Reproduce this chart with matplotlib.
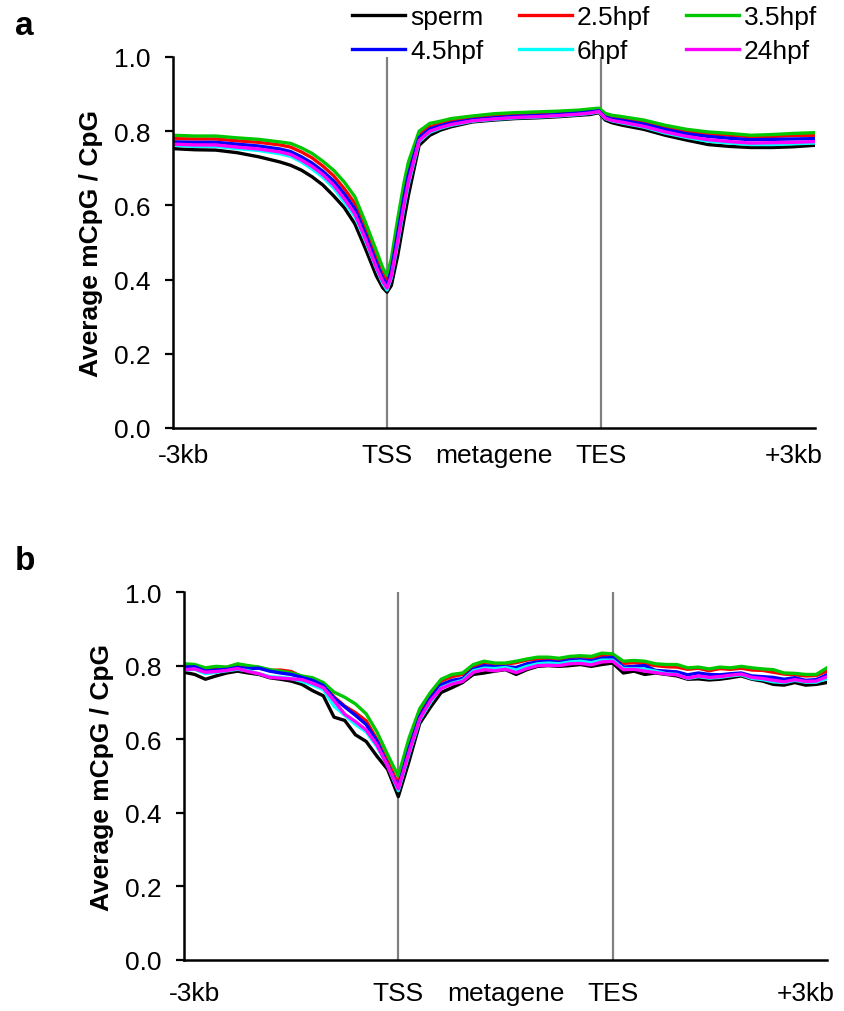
import matplotlib
matplotlib.use("Agg")
import matplotlib.pyplot as plt

plt.rcParams['font.family'] = ['Liberation Sans', 'DejaVu Sans']

labels = ['sperm', '2.5hpf', '3.5hpf', '4.5hpf', '6hpf', '24hpf']
colors = ['#000000', '#FF0000', '#00C800', '#0000FF', '#00FFFF', '#FF00FF']

# ---- panel a: metagene profile (bins: 0-100 upstream, 100-200 body, 200-300 downstream)
x_a = [0, 10, 20, 30, 40, 50, 55, 60, 65, 70, 75, 80, 85, 90, 95, 98, 100, 102, 105, 108, 110,
       115, 120, 125, 130, 140, 150, 160, 170, 180, 190, 195, 199, 202, 205, 210, 220, 230,
       240, 250, 260, 270, 280, 290, 300]
sperm_a = [.753, .750, .749, .742, .731, .717, .708, .695, .677, .655, .626, .594, .550, .482, .410,
           .378, .366, .384, .465, .564, .627, .762, .789, .803, .812, .825, .830, .834, .836, .839,
           .843, .845, .850, .830, .823, .816, .805, .789, .776, .764, .759, .756, .756, .758, .762]
h25_a = [.780, .779, .779, .774, .770, .763, .757, .744, .728, .706, .680, .645, .605, .535, .460,
         .418, .398, .440, .545, .645, .700, .790, .812, .820, .827, .835, .840, .845, .847, .849,
         .853, .856, .858, .843, .838, .834, .825, .811, .800, .793, .789, .785, .786, .788, .789]
h35_a = [.789, .787, .787, .782, .778, .771, .767, .755, .740, .719, .695, .663, .623, .553, .478,
         .432, .411, .456, .564, .663, .717, .800, .821, .827, .834, .841, .847, .850, .852, .854,
         .857, .860, .862, .848, .843, .839, .830, .816, .805, .798, .794, .789, .791, .794, .796]
h45_a = [.771, .770, .770, .765, .760, .752, .745, .731, .714, .692, .666, .631, .590, .521, .445,
         .404, .385, .425, .525, .625, .683, .783, .806, .815, .822, .831, .836, .840, .842, .845,
         .849, .852, .855, .838, .833, .829, .819, .805, .793, .786, .781, .777, .778, .779, .780]
h6_a = [.762, .759, .759, .753, .748, .739, .732, .717, .698, .676, .647, .609, .570, .503, .430,
        .390, .372, .405, .497, .597, .657, .772, .797, .808, .816, .827, .832, .836, .838, .841,
        .845, .848, .852, .834, .828, .822, .811, .795, .783, .773, .768, .764, .764, .766, .768]
h24_a = [.765, .763, .763, .757, .752, .744, .737, .722, .705, .683, .655, .618, .577, .508, .433,
         .395, .377, .410, .505, .605, .665, .775, .800, .810, .818, .828, .833, .837, .839, .842,
         .846, .849, .853, .835, .829, .824, .813, .798, .786, .777, .772, .768, .769, .770, .772]

# ---- panel b
x_b = [0, 5, 10, 15, 20, 25, 30, 35, 40, 45, 50, 55, 60, 65, 70, 75, 80, 85, 90, 95, 100,
       105, 110, 115, 120, 125, 130, 135, 140, 145, 150, 155, 160, 165, 170, 175, 180, 185,
       190, 195, 200, 205, 210, 215, 220, 225, 230, 235, 240, 245, 250, 255, 260, 265, 270,
       275, 280, 285, 290, 295, 300]
sperm_b = [.782, .776, .763, .772, .780, .785, .780, .776, .767, .763, .758, .749, .732, .718, .660,
           .651, .612, .594, .554, .518, .444, .540, .643, .687, .727, .740, .754, .776, .780, .785,
           .789, .776, .789, .798, .800, .798, .800, .803, .798, .803, .807, .780, .785, .776, .780,
           .776, .772, .763, .764, .761, .763, .767, .772, .763, .758, .749, .747, .754, .747, .749,
           .754]
h25_b = [.803, .800, .792, .795, .795, .803, .798, .795, .787, .788, .784, .770, .762, .748, .715,
         .690, .672, .650, .600, .540, .478, .585, .672, .722, .758, .770, .776, .798, .808, .805,
         .804, .808, .815, .818, .818, .817, .822, .824, .822, .828, .828, .806, .808, .805, .800,
         .797, .796, .790, .793, .786, .792, .790, .793, .788, .787, .782, .777, .775, .772, .773,
         .785]
h35_b = [.805, .803, .794, .798, .796, .805, .800, .796, .789, .785, .780, .772, .767, .754, .728,
         .714, .696, .669, .620, .558, .500, .603, .683, .727, .763, .776, .780, .803, .812, .807,
         .807, .812, .818, .823, .823, .820, .825, .827, .825, .834, .832, .812, .814, .812, .805,
         .803, .803, .794, .796, .791, .796, .794, .798, .794, .791, .789, .780, .779, .776, .776,
         .794]
h45_b = [.796, .797, .785, .788, .790, .795, .792, .793, .785, .780, .776, .768, .760, .746, .712,
         .688, .665, .640, .595, .530, .469, .575, .662, .712, .748, .760, .765, .790, .800, .797,
         .797, .795, .805, .810, .812, .809, .815, .816, .813, .820, .822, .796, .798, .800, .787,
         .785, .783, .775, .780, .776, .775, .778, .780, .772, .770, .768, .763, .767, .760, .762,
         .775]
h6_b = [.788, .790, .778, .782, .786, .790, .786, .778, .770, .768, .765, .757, .747, .735, .690,
        .665, .640, .620, .580, .528, .460, .560, .652, .700, .740, .752, .760, .786, .793, .792,
        .795, .788, .798, .805, .807, .805, .810, .812, .808, .815, .815, .792, .792, .790, .785,
        .778, .776, .765, .770, .766, .768, .772, .775, .765, .762, .756, .754, .760, .755, .755,
        .765]
h24_b = [.789, .791, .782, .784, .787, .792, .784, .778, .768, .766, .764, .762, .752, .740, .705,
         .668, .648, .625, .585, .527, .465, .565, .655, .705, .738, .750, .757, .782, .789, .786,
         .790, .781, .792, .800, .801, .800, .805, .806, .802, .810, .812, .789, .790, .785, .781,
         .777, .775, .766, .772, .768, .770, .774, .777, .768, .765, .760, .756, .762, .757, .758,
         .770]

series_a = [sperm_a, h25_a, h35_a, h45_a, h6_a, h24_a]
series_b = [sperm_b, h25_b, h35_b, h45_b, h6_b, h24_b]

xtick_pos = [5, 100, 150, 200, 290]
xtick_lab = ['-3kb', 'TSS', 'metagene', 'TES', '+3kb']
yticks = [0.0, 0.2, 0.4, 0.6, 0.8, 1.0]

fig = plt.figure(figsize=(8.44, 10.12), dpi=100)
ax_a = fig.add_axes([0.2050, 0.5761, 0.7607, 0.3666])
ax_b = fig.add_axes([0.2180, 0.0504, 0.7618, 0.3636])

fs = 19
for ax, xs, series, xpad in [(ax_a, x_a, series_a, 11), (ax_b, x_b, series_b, 15)]:
    ax.axvline(100, color='#808080', lw=1.6, zorder=1)
    ax.axvline(200, color='#808080', lw=1.6, zorder=1)
    lines = []
    for ys, lab, c in zip(series, labels, colors):
        ln, = ax.plot(xs, ys, color=c, lw=2.4, label=lab, zorder=2)
        lines.append(ln)
    ax.set_xlim(0, 300)
    ax.set_ylim(0, 1.0)
    ax.set_yticks(yticks)
    ax.set_yticklabels(['%.1f' % v for v in yticks], fontsize=fs)
    ax.set_xticks(xtick_pos)
    ax.set_xticklabels(xtick_lab, fontsize=fs)
    ax.tick_params(axis='x', length=0, pad=xpad)
    ax.tick_params(axis='y', length=6, width=1.6, pad=10, direction='out')
    for s in ['top', 'right']:
        ax.spines[s].set_visible(False)
    for s in ['left', 'bottom']:
        ax.spines[s].set_linewidth(1.8)
    ax.set_ylabel('Average mCpG / CpG', fontsize=fs, fontweight='bold', labelpad=8)

order = [0, 3, 1, 4, 2, 5]
fig.legend([lines[i] for i in order], [labels[i] for i in order],
           loc='upper left', bbox_to_anchor=(352 / 844, 1 - 6 / 1012), ncol=3,
           frameon=False, fontsize=fs, handlelength=2.0, handletextpad=0.2,
           columnspacing=1.35, labelspacing=0.38, borderpad=0, borderaxespad=0)

fig.text(15 / 844, 1 - 35 / 1012, 'a', fontsize=24, fontweight='bold', va='baseline')
fig.text(15 / 844, 1 - 570 / 1012, 'b', fontsize=24, fontweight='bold', va='baseline')

fig.savefig('out.png', dpi=100)
